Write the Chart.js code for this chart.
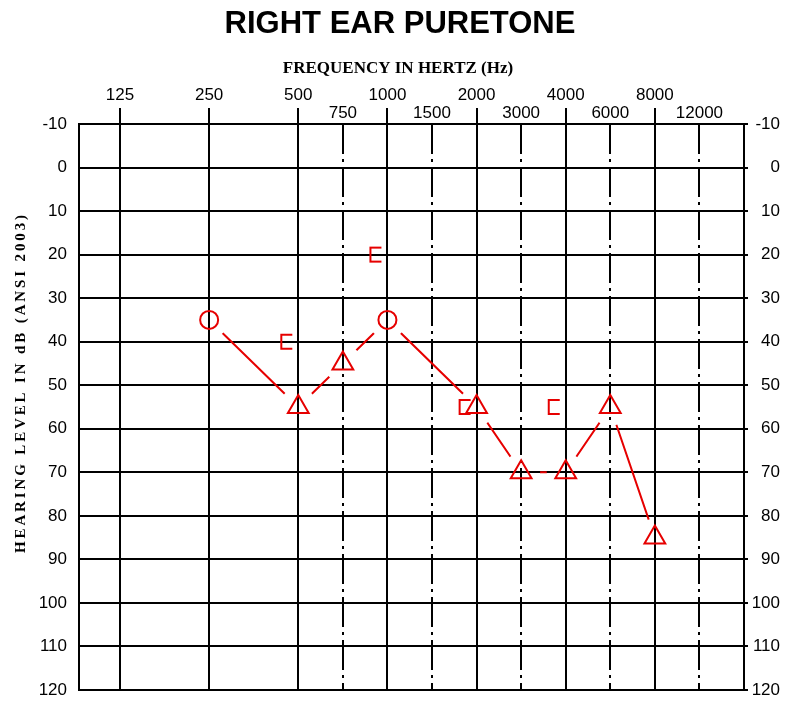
<!DOCTYPE html>
<html><head><meta charset="utf-8">
<script src="https://cdn.jsdelivr.net/npm/chart.js@4.4.1/dist/chart.umd.min.js"></script>
<style>html,body{margin:0;padding:0;background:#fff;} canvas{display:block;}</style>
</head><body>
<canvas id="c" width="787" height="704"></canvas>
<script>
// ---- data ----
const chartTitle = 'RIGHT EAR PURETONE';
const xTitle = 'FREQUENCY IN HERTZ (Hz)';
const yTitle = 'HEARING LEVEL IN dB (ANSI 2003)';
const octaveFreqs = [125, 250, 500, 1000, 2000, 4000, 8000];
const midFreqs = [750, 1500, 3000, 6000, 12000];
const dbTicks = [-10, 0, 10, 20, 30, 40, 50, 60, 70, 80, 90, 100, 110, 120];
const airFreqs = [250, 500, 750, 1000, 2000, 3000, 4000, 6000, 8000];
const airLevels = [35, 55, 45, 35, 55, 70, 70, 55, 85];
const airSymbols = ['circle', 'triangle', 'triangle', 'circle', 'triangle', 'triangle', 'triangle', 'triangle', 'triangle'];
const boneFreqs = [500, 1000, 2000, 4000];
const boneLevels = [40, 20, 55, 55];

// ---- audiogram frequency axis: octaves two steps apart, mid-octaves halfway ----
function audPos(f) {
  const o = Math.log2(f / 125);
  const r = Math.round(o);
  return Math.abs(o - r) < 1e-9 ? 2 * r : 2 * Math.floor(o) + 1;
}
const allFreqs = octaveFreqs.concat(midFreqs).sort((a, b) => a - b);
function freqAt(v) { return allFreqs.find(f => Math.abs(audPos(f) - v) < 1e-6); }

const RED = '#e60000';
const SANS = "'Liberation Sans', Arial, sans-serif";
const SERIF = "'Liberation Serif', 'Times New Roman', serif";
const X_MIN = -0.92, X_MAX = 14;

// bone conduction "[" symbol, drawn to the left of its frequency line
function bracketImage() {
  const c = document.createElement('canvas');
  c.width = 40; c.height = 20;
  const g = c.getContext('2d');
  g.strokeStyle = RED; g.lineWidth = 2;
  g.beginPath();
  g.moveTo(14, 3); g.lineTo(3, 3); g.lineTo(3, 17); g.lineTo(14, 17);
  g.stroke();
  return c;
}

const GAP = 19;
const gapPlugin = {
  id: 'gaps',
  beforeDatasetDraw(chart, args) {
    if (args.index !== 0) return;
    const ctx = chart.ctx;
    ctx.save();
    ctx.beginPath();
    ctx.rect(0, 0, chart.width, chart.height);
    args.meta.data.forEach(p => { ctx.moveTo(p.x + GAP, p.y); ctx.arc(p.x, p.y, GAP, 0, Math.PI * 2); });
    ctx.clip('evenodd');
  },
  afterDatasetDraw(chart, args) { if (args.index === 0) chart.ctx.restore(); }
};

const textPlugin = {
  id: 'texts',
  afterDraw(chart) {
    const ctx = chart.ctx;
    ctx.save();
    ctx.fillStyle = '#000';
    ctx.textAlign = 'center'; ctx.textBaseline = 'middle';
    ctx.font = 'bold 31px ' + SANS;
    ctx.fillText(chartTitle, 400, 24);
    ctx.font = 'bold 17px ' + SERIF;
    ctx.fillText(xTitle, 398, 68.5);
    // vertical axis title, letter-spaced
    ctx.translate(21, 384);
    ctx.rotate(-Math.PI / 2);
    ctx.font = 'bold 15px ' + SERIF;
    ctx.textAlign = 'left';
    const chars = yTitle.split('');
    const widths = chars.map(ch => ctx.measureText(ch).width);
    const total = widths.reduce((a, b) => a + b, 0);
    const target = 338;
    const sp = (target - total) / (chars.length - 1);
    let x = -target / 2;
    chars.forEach((ch, i) => { ctx.fillText(ch, x, 0); x += widths[i] + sp; });
    ctx.restore();
  }
};

const tickFont = { family: SANS, size: 17, lineHeight: 1.088 };
const yFont = { family: SANS, size: 17, lineHeight: 1 };

new Chart(document.getElementById('c'), {
  type: 'scatter',
  data: {
    datasets: [
      {
        data: airFreqs.map((f, i) => ({ x: audPos(f), y: airLevels[i] })),
        showLine: true, borderColor: RED, borderWidth: 2, pointRadius: 0, tension: 0, fill: false
      },
      {
        data: airFreqs.map((f, i) => ({ x: audPos(f), y: airLevels[i] })),
        showLine: false,
        pointStyle: airSymbols,
        pointRadius: airSymbols.map(s => s === 'circle' ? 9 : 12),
        pointBorderColor: RED, pointBackgroundColor: 'rgba(0,0,0,0)', pointBorderWidth: 2
      },
      {
        data: boneFreqs.map((f, i) => ({ x: audPos(f), y: boneLevels[i] })),
        showLine: false, pointStyle: bracketImage(), pointRadius: 8
      }
    ]
  },
  options: {
    responsive: false, animation: false, devicePixelRatio: 1,
    layout: { padding: { left: 0, right: 7, top: 0, bottom: 12 } },
    plugins: { legend: { display: false }, tooltip: { enabled: false }, title: { display: false } },
    scales: {
      x: {
        type: 'linear', position: 'top', min: X_MIN, max: X_MAX, weight: 10,
        afterBuildTicks: s => { s.ticks = allFreqs.map(f => ({ value: audPos(f) })); },
        ticks: {
          autoSkip: false, maxRotation: 0, minRotation: 0, padding: 1.25, color: '#000', font: tickFont,
          callback: v => { const f = freqAt(v); return octaveFreqs.includes(f) ? [String(f), ''] : ['', String(f)]; }
        },
        grid: { display: false, drawTicks: false },
        border: { display: false },
        afterFit: s => { s.height = 124; s.paddingLeft = 0; s.paddingRight = 0; }
      },
      xOct: {
        type: 'linear', position: 'top', min: X_MIN, max: X_MAX, weight: 0,
        afterBuildTicks: s => { s.ticks = octaveFreqs.map(f => ({ value: audPos(f) })); },
        ticks: { display: false },
        grid: { color: '#000', lineWidth: 2, drawTicks: true, tickLength: 16, tickColor: '#000', tickWidth: 2 },
        border: { display: false },
        afterFit: s => { s.height = 0; }
      },
      xMid: {
        type: 'linear', position: 'top', min: X_MIN, max: X_MAX, weight: 0,
        afterBuildTicks: s => { s.ticks = midFreqs.map(f => ({ value: audPos(f) })); },
        ticks: { display: false },
        grid: { color: '#000', lineWidth: 2, drawTicks: false },
        border: { display: false, dash: [30, 5, 3, 5] },
        afterFit: s => { s.height = 0; }
      },
      y: {
        type: 'linear', position: 'left', reverse: true, min: -10, max: 120,
        afterBuildTicks: s => { s.ticks = dbTicks.map(v => ({ value: v })); },
        ticks: { color: '#000', font: yFont, padding: 0 },
        grid: { color: '#000', lineWidth: 2, drawTicks: true, tickLength: 12, tickColor: 'rgba(0,0,0,0)' },
        border: { display: true, color: '#000', width: 2 },
        afterFit: s => { s.width = 79; s.paddingTop = 0; s.paddingBottom = 0; }
      },
      y2: {
        type: 'linear', position: 'right', reverse: true, min: -10, max: 120,
        afterBuildTicks: s => { s.ticks = dbTicks.map(v => ({ value: v })); },
        ticks: { color: '#000', font: yFont, crossAlign: 'far', padding: 0 },
        grid: { drawOnChartArea: false, drawTicks: true, tickLength: 4, color: '#000', lineWidth: 2 },
        border: { display: true, color: '#000', width: 2 },
        afterFit: s => { s.width = 36; s.paddingTop = 0; s.paddingBottom = 0; }
      }
    }
  },
  plugins: [gapPlugin, textPlugin]
});
</script>
</body></html>
